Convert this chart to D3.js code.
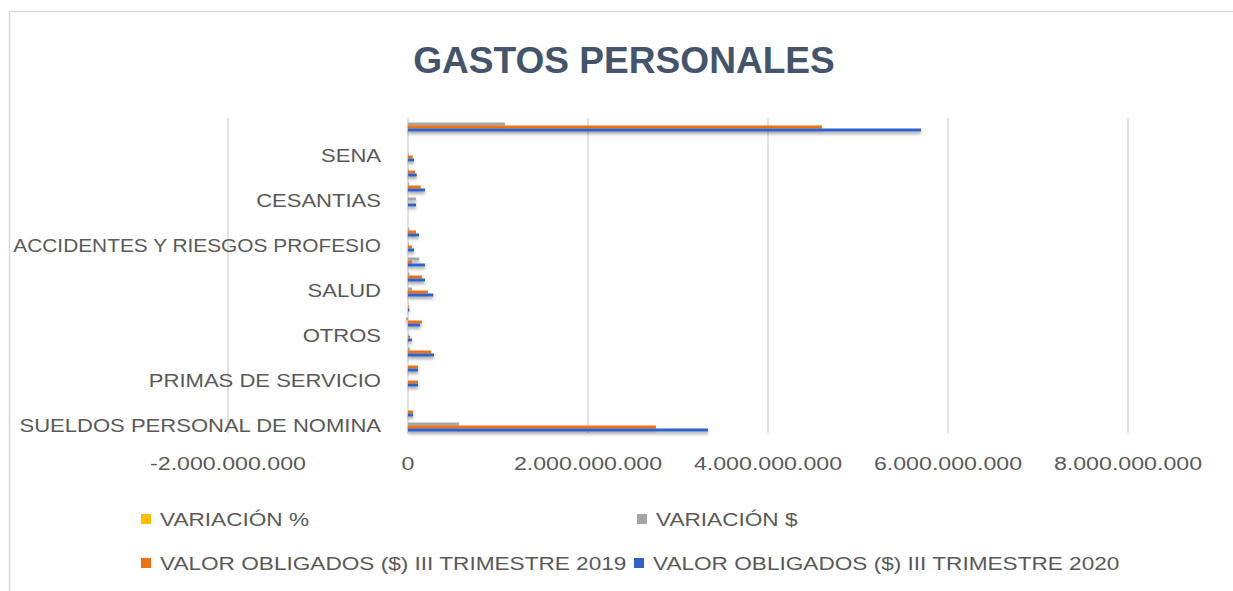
<!DOCTYPE html>
<html>
<head>
<meta charset="utf-8">
<script src="https://cdn.jsdelivr.net/npm/d3@7"></script>
<style>
  body { margin: 0; background: #fff; }
  text { font-family: "Liberation Sans", Arial, sans-serif; }
</style>
</head>
<body>
<svg id="chart" width="1233" height="591"></svg>
<script>
// categories, bottom to top (only every third label is visible in the chart)
var categories = [
  "SUELDOS PERSONAL DE NOMINA", "", "", "PRIMAS DE SERVICIO", "", "",
  "OTROS", "", "", "SALUD", "", "", "ACCIDENTES Y RIESGOS PROFESIO", "", "",
  "CESANTIAS", "", "", "SENA", "", ""
];

var seriesNames = ["VARIACIÓN %", "VARIACIÓN $",
  "VALOR OBLIGADOS ($) III TRIMESTRE 2019", "VALOR OBLIGADOS ($) III TRIMESTRE 2020"];
var seriesColors = ["#ffc000", "#a5a5a5", "#f07010", "#2f62c8"];

var variacionPct = [0.21, 0, 0, 0, 0, 0.13, 1, -0.14, 0.5, 0.27, 0.22, 3.3, 0.52, 0.37, 0, 1, 0.34, 0.24, 0.29, 0, 0.24];
var variacionAbs = [566000000, 0, 0, 0, 0, 20000000, 5000000, -22000000, 5000000, 44000000,
  15000000, 125000000, 8000000, 15000000, 0, 89000000, 12000000, 6000000, 5000000, 0, 1077000000];
var valor2019 = [2755000000, 55000000, 0, 111000000, 111000000, 255000000, 22000000, 155000000, 8000000, 222000000,
  155000000, 44000000, 44000000, 89000000, 0, 0, 141000000, 78000000, 52000000, 0, 4600000000];
var valor2020 = [3333000000, 55000000, 0, 111000000, 111000000, 289000000, 44000000, 133000000, 15000000, 281000000,
  189000000, 189000000, 67000000, 122000000, 0, 89000000, 189000000, 97000000, 67000000, 0, 5700000000];

var xTicks = [-2000000000, 0, 2000000000, 4000000000, 6000000000, 8000000000];

var svg = d3.select("#chart");
var textColor = "#595959";
var gridColor = "#d9d9d9";

// frame
svg.append("path")
  .attr("d", "M9.5,591 V11.5 H1233")
  .attr("fill", "none")
  .attr("stroke", gridColor)
  .attr("stroke-width", 1.5);

// shadow for the bars
var defs = svg.append("defs");
var f = defs.append("filter").attr("id", "shadow")
  .attr("x", "-5%").attr("y", "-50%").attr("width", "120%").attr("height", "300%");
f.append("feDropShadow")
  .attr("dx", 0).attr("dy", 2.5).attr("stdDeviation", 1.8)
  .attr("flood-color", "#000").attr("flood-opacity", 0.35);

svg.append("text")
  .attr("font-size", 36).attr("font-weight", "bold")
  .attr("fill", "#44546a")
  .attr("text-anchor", "middle")
  .attr("transform", "translate(624,73) scale(1.03,1)")
  .text("GASTOS PERSONALES");

var plotTop = 118, plotBottom = 433;

var x = d3.scaleLinear().domain([-2000000000, 8000000000]).range([228, 1128]);

var idx = d3.range(categories.length);
var y0 = d3.scaleBand().domain(idx).range([plotBottom, plotTop]).paddingInner(0.2).paddingOuter(0.1);
var y1 = d3.scaleBand().domain(d3.range(4)).range([0, y0.bandwidth()]);

var loc = d3.formatLocale({ decimal: ",", thousands: ".", grouping: [3], currency: ["$", ""], minus: "-" });
var fmt = loc.format(",.0f");

// gridlines
svg.append("g").selectAll("line")
  .data(xTicks)
  .join("line")
  .attr("x1", function(d) { return x(d); })
  .attr("x2", function(d) { return x(d); })
  .attr("y1", plotTop).attr("y2", plotBottom)
  .attr("stroke", gridColor)
  .attr("stroke-width", 1.5);

// tick labels
svg.append("g").selectAll("text")
  .data(xTicks)
  .join("text")
  .attr("text-anchor", "middle")
  .attr("font-size", 19)
  .attr("fill", textColor)
  .attr("transform", function(d) { return "translate(" + x(d) + ",470) scale(1.22,1)"; })
  .text(function(d) { return fmt(d); });

// bars
var rows = idx.map(function(i) {
  return [variacionPct[i], variacionAbs[i], valor2019[i], valor2020[i]];
});

var groups = svg.append("g")
  .attr("filter", "url(#shadow)")
  .selectAll("g")
  .data(rows)
  .join("g")
  .attr("transform", function(d, i) { return "translate(0," + y0(i) + ")"; });

groups.selectAll("rect")
  .data(function(d) { return d; })
  .join("rect")
  .attr("x", function(v) { return x(Math.min(0, v)); })
  .attr("y", function(v, j) { return y1(j); })
  .attr("width", function(v) { return Math.abs(x(v) - x(0)); })
  .attr("height", y1.bandwidth())
  .attr("fill", function(v, j) { return seriesColors[j]; });

// category labels (stretched a bit, but never wider than the room on the left)
svg.append("g").selectAll("text")
  .data(idx.filter(function(i) { return categories[i] !== ""; }))
  .join("text")
  .attr("text-anchor", "end")
  .attr("font-size", 19)
  .attr("fill", textColor)
  .attr("dy", "0.35em")
  .text(function(i) { return categories[i]; })
  .attr("transform", function(i) {
    var w = this.getComputedTextLength();
    var s = Math.min(1.16, 368 / w);
    return "translate(381," + (y0(i) + y0.bandwidth() / 2) + ") scale(" + s + ",1)";
  });

// legend
var legendPos = [[141, 519], [637, 519], [141, 563], [634, 563]];
var lg = svg.append("g").selectAll("g")
  .data(seriesNames)
  .join("g")
  .attr("transform", function(d, i) { return "translate(" + legendPos[i][0] + "," + legendPos[i][1] + ")"; });

lg.append("rect")
  .attr("x", 0).attr("y", -5)
  .attr("width", 10).attr("height", 10)
  .attr("fill", function(d, i) { return seriesColors[i]; });

lg.append("text")
  .attr("font-size", 19)
  .attr("fill", textColor)
  .attr("dy", "0.35em")
  .attr("transform", "translate(19,0) scale(1.19,1)")
  .text(function(d) { return d; });
</script>
</body>
</html>
